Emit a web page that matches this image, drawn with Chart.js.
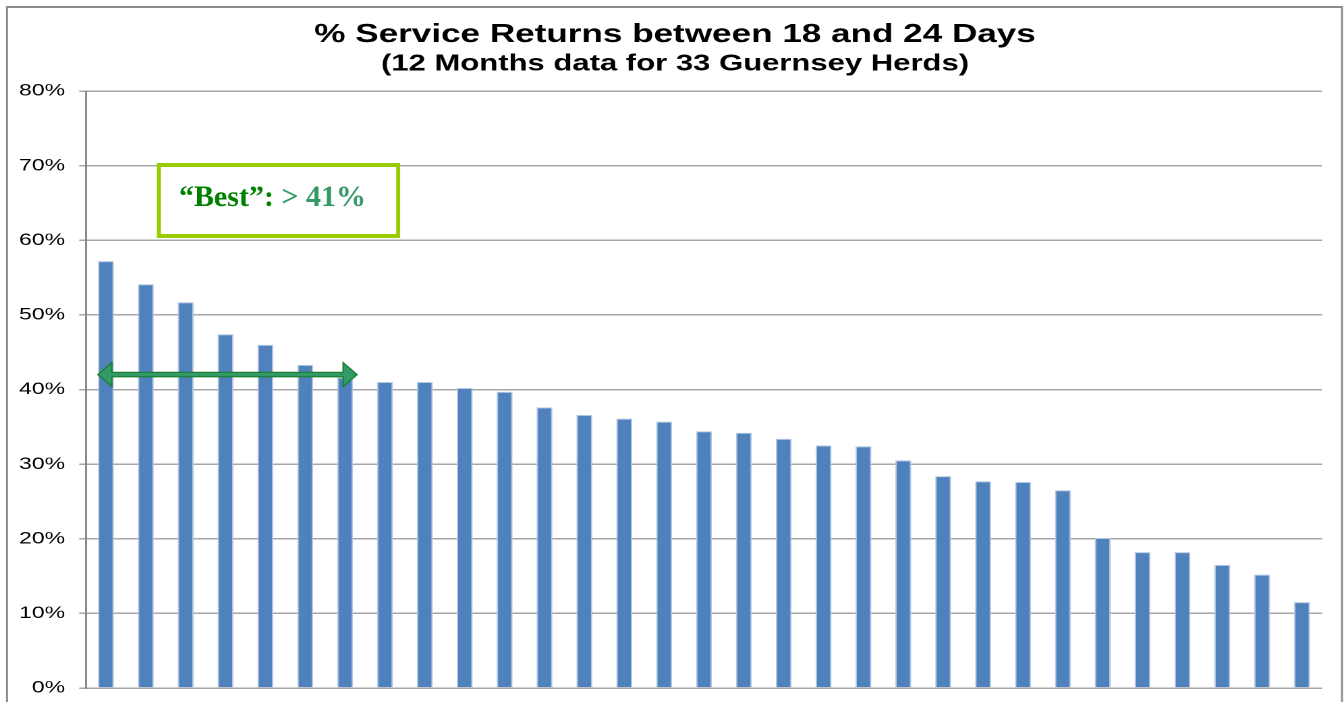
<!DOCTYPE html>
<html><head><meta charset="utf-8"><title>% Service Returns between 18 and 24 Days</title>
<script src="https://cdn.jsdelivr.net/npm/chart.js"></script>
<style>
html, body { margin: 0; padding: 0; background: #fff; overflow: hidden; }
#returnsChart { position: absolute; left: 0; top: 0; }
</style></head>
<body>
<canvas id="returnsChart" width="996" height="702" style="width:1344px;height:702px"></canvas>
<script>
// herds ranked high to low (no axis labels shown in the original)
const herds = ['1','2','3','4','5','6','7','8','9','10','11','12','13','14','15','16',
  '17','18','19','20','21','22','23','24','25','26','27','28','29','30','31'];
const returnPct = [57.2, 54.1, 51.7, 47.4, 46.0, 43.3, 41.6, 41.0, 41.0, 40.2, 39.7,
  37.6, 36.6, 36.1, 35.7, 34.4, 34.2, 33.4, 32.5, 32.4, 30.5, 28.4, 27.7, 27.6, 26.5,
  20.1, 18.2, 18.2, 16.5, 15.2, 11.5];
const yMin = 0, yMax = 80, yStep = 10;

const titleText = '% Service Returns between 18 and 24 Days';
const subtitleText = '(12 Months data for 33 Guernsey Herds)';
const bestLabel = '\u201CBest\u201D:';
const bestValue = '> 41%';
const bestLine = 42;   // arrow height, %

// the original slide picture is stretched sideways; draw narrow then stretch
const STRETCH = 1344 / 996;
const sans = '"Liberation Sans", Arial, sans-serif';

const overlay = {
  id: 'overlay',
  afterDraw(chart) {
    const { ctx, scales: { x, y } } = chart;
    const sx = v => x.getPixelForValue(v) * STRETCH;
    ctx.save();
    ctx.scale(1 / STRETCH, 1);

    // outer frame
    ctx.strokeStyle = '#8C8C8C';
    ctx.lineWidth = 2;
    ctx.beginPath();
    ctx.moveTo(7, 702); ctx.lineTo(7, 7); ctx.lineTo(1342, 7); ctx.lineTo(1342, 702);
    ctx.stroke();

    // "Best" box
    const l = sx(1.28), r = sx(7.38);
    const t = y.getPixelForValue(70.35), b = y.getPixelForValue(60.3);
    ctx.strokeStyle = '#99CC00';
    ctx.lineWidth = 4;
    ctx.strokeRect(l + 2, t + 2, r - l - 4, b - t - 4);
    ctx.font = 'bold 30px "Liberation Serif", "Times New Roman", serif';
    ctx.textBaseline = 'alphabetic';
    ctx.textAlign = 'left';
    ctx.fillStyle = '#008000';
    ctx.fillText(bestLabel, l + 22, t + 43);
    const w = ctx.measureText(bestLabel + ' ').width;
    ctx.fillStyle = '#339966';
    ctx.fillText(bestValue, l + 22 + w, t + 43);

    // double arrow
    const ay = y.getPixelForValue(bestLine), a1 = sx(-0.2), a2 = sx(6.3);
    const hl = 14, hh = 12, sh = 2.2;
    ctx.beginPath();
    ctx.moveTo(a1, ay);
    ctx.lineTo(a1 + hl, ay - hh); ctx.lineTo(a1 + hl, ay - sh);
    ctx.lineTo(a2 - hl, ay - sh); ctx.lineTo(a2 - hl, ay - hh);
    ctx.lineTo(a2, ay);
    ctx.lineTo(a2 - hl, ay + hh); ctx.lineTo(a2 - hl, ay + sh);
    ctx.lineTo(a1 + hl, ay + sh); ctx.lineTo(a1 + hl, ay + hh);
    ctx.closePath();
    ctx.fillStyle = '#339966';
    ctx.fill();
    ctx.strokeStyle = '#18802E';
    ctx.lineWidth = 1.3;
    ctx.stroke();
    ctx.restore();
  }
};

new Chart(document.getElementById('returnsChart'), {
  type: 'bar',
  data: {
    labels: herds,
    datasets: [{
      data: returnPct,
      backgroundColor: '#4F81BD',
      borderColor: '#B3C7E3',
      borderWidth: 1,
      barPercentage: 0.4,
      categoryPercentage: 1
    }]
  },
  options: {
    responsive: false,
    devicePixelRatio: 2,
    animation: false,
    layout: { padding: { left: 4.5, right: 0, top: 0, bottom: 14 } },
    plugins: {
      legend: { display: false },
      tooltip: { enabled: false },
      title: {
        display: true, text: titleText, color: '#000',
        font: { family: sans, size: 26, weight: 'bold' },
        padding: { top: 19, bottom: 0 }
      },
      subtitle: {
        display: true, text: subtitleText, color: '#000',
        font: { family: sans, size: 23, weight: 'bold' },
        padding: { top: 0, bottom: 13.2 }
      }
    },
    scales: {
      x: { display: false },
      y: {
        min: yMin, max: yMax,
        afterFit: s => { s.width = 59.2; s.paddingBottom = 0; s.paddingTop = 0; },
        ticks: {
          stepSize: yStep, padding: 10.5, color: '#000',
          font: { family: sans, size: 17 },
          callback: v => v + '%'
        },
        grid: { color: '#A6A6A6', lineWidth: 1.5, tickLength: 5 },
        border: { color: '#8C8C8C', width: 1.5 }
      },
      yRight: {
        position: 'right',
        afterFit: s => { s.width = 16.3; s.paddingBottom = 0; s.paddingTop = 0; },
        ticks: { display: false },
        grid: { display: false },
        border: { display: false }
      }
    }
  },
  plugins: [overlay]
});
</script></body></html>
